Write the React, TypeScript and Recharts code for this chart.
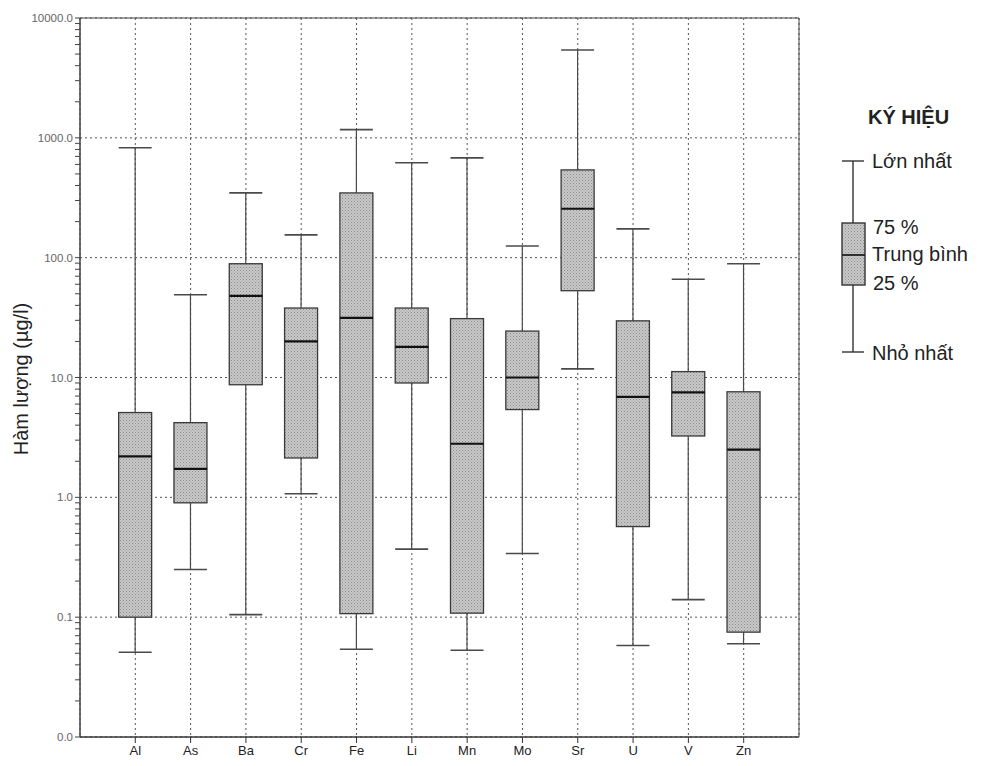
import { ComposedChart, Bar, Scatter, XAxis, YAxis, CartesianGrid, ReferenceArea } from 'recharts'

// values (µg/l, log axis)
const elements = ['Al', 'As', 'Ba', 'Cr', 'Fe', 'Li', 'Mn', 'Mo', 'Sr', 'U', 'V', 'Zn']
const maxValues = [826, 49, 347, 155, 1170, 619, 680, 125, 5400, 174, 66, 89]
const q3Values = [5.1, 4.2, 89, 38, 347, 38, 31, 24.4, 540, 29.7, 11.2, 7.6]
const medianValues = [2.2, 1.73, 48, 20, 31.5, 18, 2.8, 10, 256, 6.9, 7.5, 2.5]
const q1Values = [0.1, 0.9, 8.7, 2.13, 0.107, 9.0, 0.108, 5.4, 53, 0.57, 3.25, 0.075]
const minValues = [0.051, 0.25, 0.105, 1.07, 0.054, 0.37, 0.053, 0.34, 11.8, 0.058, 0.14, 0.06]

const decadeTicks = [0.01, 0.1, 1, 10, 100, 1000, 10000]
const minorSteps = [2, 3, 4, 5, 6, 7, 8, 9]
const positions = [1, 2, 3, 4, 5, 6, 7, 8, 9, 10, 11, 12]

const allYTicks = decadeTicks.concat(
  decadeTicks.slice(0, -1).flatMap((d) => minorSteps.map((m) => +(d * m).toPrecision(3)))
)

const data = elements.map((name, i) => ({
  pos: positions[i],
  name,
  whisker: [minValues[i], maxValues[i]],
  box: [q1Values[i], q3Values[i]],
  median: medianValues[i],
}))

const BOX_W = 33
const FONT = '"Liberation Sans", Arial, sans-serif'

function Stipple({ id }: { id: string }) {
  return (
    <defs>
      <pattern id={id} width="3" height="3" patternUnits="userSpaceOnUse">
        <rect width="3" height="3" fill="#c9c9c9" />
        <rect x="0" y="0" width="1" height="1" fill="#8c8c8c" />
        <rect x="1.5" y="1.5" width="1" height="1" fill="#9c9c9c" />
      </pattern>
    </defs>
  )
}

function WhiskerShape(props: { x?: number; y?: number; width?: number; height?: number }) {
  const { x = 0, y = 0, width = 0, height = 0 } = props
  const cx = x + width / 2
  return (
    <g stroke="#4a4a4a" strokeWidth={1.2}>
      <line x1={cx} x2={cx} y1={y} y2={y + height} />
      <line x1={x} x2={x + width} y1={y} y2={y} strokeWidth={1.6} />
      <line x1={x} x2={x + width} y1={y + height} y2={y + height} strokeWidth={1.6} />
    </g>
  )
}

function BoxShape(props: { x?: number; y?: number; width?: number; height?: number }) {
  const { x = 0, y = 0, width = 0, height = 0 } = props
  return (
    <g>
      <Stipple id="stipple" />
      <rect x={x} y={y} width={width} height={height} fill="url(#stipple)" stroke="#3a3a3a" strokeWidth={1.3} />
    </g>
  )
}

function MedianShape(props: { cx?: number; cy?: number }) {
  const { cx = 0, cy = 0 } = props
  return <line x1={cx - BOX_W / 2} x2={cx + BOX_W / 2} y1={cy} y2={cy} stroke="#111" strokeWidth={2.2} />
}

function LegendKey() {
  return (
    <svg width={184} height={290} style={{ position: 'absolute', left: 800, top: 90 }}>
      <Stipple id="stippleLegend" />
      <text x={68} y={34} fontFamily={FONT} fontSize={20} fontWeight={700} fill="#222">KÝ HIỆU</text>
      <g stroke="#333" strokeWidth={1.4}>
        <line x1={53} x2={53} y1={71} y2={133} />
        <line x1={53} x2={53} y1={195} y2={262} />
        <line x1={42} x2={64} y1={71} y2={71} />
        <line x1={42} x2={64} y1={262} y2={262} />
      </g>
      <rect x={42} y={133} width={23} height={62} fill="url(#stippleLegend)" stroke="#333" strokeWidth={1.4} />
      <line x1={42} x2={65} y1={165} y2={165} stroke="#222" strokeWidth={1.8} />
      <g fontFamily={FONT} fontSize={20} fill="#222" dominantBaseline="central">
        <text x={72} y={71}>Lớn nhất</text>
        <text x={73} y={137}>75 %</text>
        <text x={72} y={164}>Trung bình</text>
        <text x={73} y={193}>25 %</text>
        <text x={72} y={263}>Nhỏ nhất</text>
      </g>
    </svg>
  )
}

export default function App() {
  return (
    <div style={{ position: 'fixed', left: 0, top: 0, width: 984, height: 766, background: '#fff', overflow: 'hidden' }}>
      <ComposedChart
        width={984}
        height={766}
        data={data}
        margin={{ top: 18, right: 185, bottom: 0, left: 20 }}
      >
        <CartesianGrid
          xAxisId="a"
          yAxisId="grid"
          stroke="#555"
          strokeDasharray="2 3"
          strokeWidth={1}
        />
        <XAxis
          xAxisId="a"
          dataKey="pos"
          type="number"
          domain={[0, 13]}
          ticks={positions}
          tickFormatter={(v: number) => elements[v - 1] ?? ''}
          height={29}
          tickSize={6}
          tickMargin={3}
          stroke="#333"
          tick={{ fontSize: 13, fill: '#222', fontFamily: FONT }}
          allowDataOverflow
        />
        <XAxis xAxisId="b" dataKey="pos" type="number" domain={[0, 13]} ticks={positions} hide height={0} allowDataOverflow />
        <YAxis
          yAxisId="main"
          scale="log"
          domain={[0.01, 10000]}
          ticks={allYTicks}
          interval={0}
          allowDataOverflow
          width={60}
          tickSize={5}
          tickMargin={2}
          stroke="#444"
          tickFormatter={(v: number) => (decadeTicks.includes(v) ? v.toFixed(1) : '')}
          tick={{ fontSize: 11.5, fill: '#666', fontFamily: FONT }}
        />
        <YAxis
          yAxisId="grid"
          orientation="right"
          scale="log"
          domain={[0.01, 10000]}
          ticks={decadeTicks}
          hide
          width={0}
          allowDataOverflow
        />
        <ReferenceArea
          xAxisId="a"
          yAxisId="main"
          x1={0}
          x2={13}
          y1={0.01}
          y2={10000}
          fill="none"
          stroke="#444"
          strokeWidth={1}
          ifOverflow="visible"
        />
        <Bar
          xAxisId="b"
          yAxisId="main"
          dataKey="whisker"
          barSize={BOX_W}
          shape={<WhiskerShape />}
          isAnimationActive={false}
        />
        <Bar
          xAxisId="a"
          yAxisId="main"
          dataKey="box"
          barSize={BOX_W}
          shape={<BoxShape />}
          isAnimationActive={false}
        />
        <Scatter
          xAxisId="a"
          yAxisId="main"
          dataKey="median"
          shape={<MedianShape />}
          isAnimationActive={false}
        />
      </ComposedChart>
      <div
        style={{
          position: 'absolute',
          left: 21,
          top: 379,
          transform: 'translate(-50%, -50%) rotate(-90deg)',
          whiteSpace: 'nowrap',
          fontFamily: FONT,
          fontSize: 20,
          color: '#222',
        }}
      >
        Hàm lượng (µg/l)
      </div>
      <LegendKey />
    </div>
  )
}
